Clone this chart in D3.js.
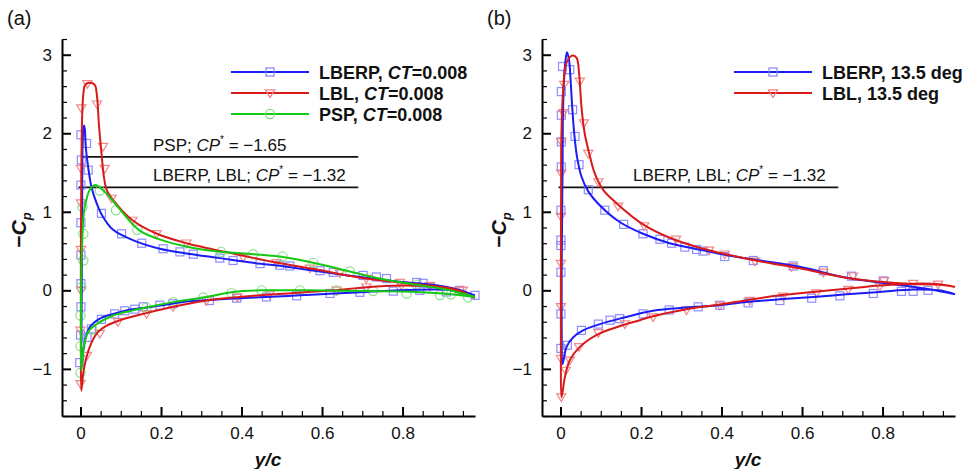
<!DOCTYPE html>
<html>
<head>
<meta charset="utf-8">
<script src="https://cdn.jsdelivr.net/npm/d3@7"></script>
<style>
  html, body { margin: 0; padding: 0; background: #fff; }
  svg { display: block; }
</style>
</head>
<body>
<div id="idMyCanvas"></div>
<script>
// ---- data: [y/c, -Cp] ----
// each curve goes lower surface TE -> LE, then upper surface LE -> TE
let x_ticks = [0, 0.2, 0.4, 0.6, 0.8];
let y_ticks = [-1, 0, 1, 2, 3];

// panel (a), CT = 0.008
let lberp_a = [[0.98,-0.064],[0.93,0.0],[0.876,0.01],[0.79,0.0],[0.71,-0.02],[0.63,-0.04],[0.545,-0.064],[0.46,-0.085],[0.396,-0.1],[0.33,-0.12],[0.27,-0.14],[0.214,-0.18],[0.164,-0.22],[0.114,-0.255],[0.081,-0.3],[0.048,-0.36],[0.023,-0.47],[0.011,-0.64],[0.005,-0.85],[0.002,-0.98],
  [0.002,-0.6],[0.003,0.0],[0.004,1.0],[0.005,1.8],[0.007,2.05],[0.009,2.1],[0.011,2.04],[0.013,1.83],[0.019,1.57],[0.027,1.32],[0.04,1.11],[0.052,0.97],[0.081,0.77],[0.13,0.64],[0.197,0.53],[0.263,0.47],[0.346,0.41],[0.429,0.35],[0.512,0.3],[0.595,0.24],[0.694,0.17],[0.793,0.11],[0.876,0.07],[0.93,0.02],[0.98,-0.064]];
let lbl_a = [[0.98,-0.1],[0.94,-0.01],[0.876,0.045],[0.793,0.06],[0.71,0.04],[0.628,0.0],[0.545,-0.03],[0.479,-0.05],[0.396,-0.085],[0.313,-0.13],[0.23,-0.21],[0.164,-0.29],[0.098,-0.38],[0.065,-0.45],[0.04,-0.55],[0.023,-0.72],[0.013,-0.89],[0.0066,-1.06],[0.002,-1.28],
  [0.001,-0.6],[0.001,0.5],[0.002,1.5],[0.004,2.2],[0.007,2.5],[0.011,2.61],[0.018,2.64],[0.028,2.64],[0.036,2.61],[0.041,2.47],[0.046,2.09],[0.052,1.75],[0.058,1.45],[0.065,1.28],[0.081,1.15],[0.13,0.89],[0.19,0.72],[0.263,0.6],[0.313,0.54],[0.396,0.45],[0.479,0.36],[0.57,0.28],[0.71,0.15],[0.793,0.1],[0.876,0.055],[0.94,0.0],[0.98,-0.1]];
let psp_a = [[0.98,-0.085],[0.9,-0.04],[0.835,-0.02],[0.71,-0.01],[0.57,0.0],[0.445,0.0],[0.379,-0.02],[0.313,-0.085],[0.23,-0.15],[0.172,-0.21],[0.13,-0.255],[0.081,-0.32],[0.04,-0.43],[0.019,-0.53],[0.008,-0.72],[0.002,-1.02],
  [0.001,-0.5],[0.002,0.2],[0.005,0.72],[0.008,0.98],[0.013,1.12],[0.023,1.28],[0.036,1.34],[0.05,1.3],[0.065,1.23],[0.093,1.06],[0.147,0.76],[0.214,0.62],[0.28,0.54],[0.346,0.49],[0.429,0.46],[0.495,0.43],[0.578,0.35],[0.669,0.24],[0.752,0.14],[0.835,0.07],[0.917,0.0],[0.98,-0.085]];

let lberp_a_pts = [[0.001,1.98],[0.015,1.87],[0.002,1.66],[0.019,1.53],[0.001,1.34],[0.052,0.98],[0.001,0.86],[0.102,0.72],[0.152,0.6],[0.001,0.45],[0.205,0.53],[0.247,0.49],[0.28,0.46],[0.346,0.41],[0.379,0.38],[0.446,0.34],[0.495,0.32],[0.52,0.31],[0.595,0.25],[0.628,0.23],[0.702,0.19],[0.735,0.17],[0.76,0.15],[0.835,0.1],[0.851,0.09],[0.942,0.0],[0.98,-0.064],
  [0.001,0.085],[0.001,-0.21],[0.0,-0.57],[0.016,-0.6],[0.027,-0.49],[0.052,-0.37],[0.085,-0.3],[0.11,-0.26],[0.135,-0.24],[-0.002,-0.92],[0.156,-0.21],[0.197,-0.19],[0.23,-0.17],[0.32,-0.13],[0.388,-0.1],[0.462,-0.085],[0.537,-0.07],[0.62,-0.04],[0.694,-0.025],[0.777,-0.01],[0.843,0.0],[0.909,-0.02]];
let lbl_a_pts = [[0.017,2.63],[0.002,2.32],[0.041,2.37],[0.056,1.83],[0.001,1.55],[0.06,1.55],[0.001,1.11],[0.077,1.17],[0.001,0.52],[0.129,0.89],[0.189,0.72],[0.263,0.6],[0.404,0.42],[0.487,0.35],[0.57,0.28],[0.644,0.22],[0.71,0.15],[0.793,0.1],[0.868,0.06],[0.942,0.0],
  [0.001,0.0],[0.0,-0.51],[0.016,-0.83],[0.0,-1.19],[0.048,-0.55],[0.093,-0.4],[0.164,-0.3],[0.23,-0.21],[0.313,-0.13],[0.39,-0.09],[0.47,-0.05],[0.636,0.0],[0.71,0.04],[0.797,0.06],[0.868,0.05],[0.95,0.0]];
let psp_a_pts = [[0.005,1.06],[0.007,0.72],[0.007,0.38],[0.048,1.27],[0.088,1.02],[0.141,0.77],[0.349,0.49],[0.429,0.46],[0.502,0.43],[0.578,0.35],[0.669,0.24],[0.835,0.07],
  [0.002,0.04],[0.0,-0.32],[0.0,-0.71],[0.0,-1.05],[0.03,-0.5],[0.164,-0.22],[0.23,-0.15],[0.305,-0.09],[0.375,-0.035],[0.45,0.0],[0.545,0.0],[0.636,0.0],[0.727,-0.01],[0.81,-0.04],[0.893,-0.06],[0.92,-0.05],[0.963,-0.09]];

// panel (b), 13.5 deg
let lberp_b = [[0.98,-0.05],[0.94,0.0],[0.876,0.01],[0.793,-0.02],[0.71,-0.05],[0.628,-0.085],[0.545,-0.115],[0.462,-0.15],[0.396,-0.19],[0.313,-0.22],[0.23,-0.26],[0.147,-0.36],[0.098,-0.43],[0.056,-0.51],[0.031,-0.6],[0.015,-0.72],[0.005,-0.94],
  [0.003,-0.5],[0.003,0.3],[0.004,1.0],[0.005,1.49],[0.0065,2.34],[0.011,2.85],[0.016,3.03],[0.021,2.94],[0.025,2.68],[0.029,2.34],[0.034,2.0],[0.041,1.7],[0.052,1.45],[0.069,1.26],[0.098,1.08],[0.147,0.87],[0.205,0.72],[0.271,0.6],[0.354,0.51],[0.42,0.44],[0.495,0.38],[0.594,0.3],[0.71,0.16],[0.793,0.1],[0.876,0.045],[0.917,0.015],[0.98,-0.05]];
let lbl_b = [[0.98,0.043],[0.942,0.077],[0.876,0.085],[0.793,0.06],[0.71,0.02],[0.628,-0.02],[0.545,-0.064],[0.462,-0.125],[0.396,-0.18],[0.313,-0.24],[0.23,-0.33],[0.197,-0.38],[0.139,-0.47],[0.089,-0.57],[0.048,-0.72],[0.023,-0.89],[0.0107,-1.11],[0.0025,-1.36],
  [0.001,-0.8],[0.001,0.3],[0.0015,1.3],[0.002,1.92],[0.0065,2.55],[0.015,2.9],[0.03,2.99],[0.04,2.96],[0.046,2.77],[0.052,2.34],[0.06,2.0],[0.071,1.75],[0.085,1.49],[0.106,1.28],[0.139,1.11],[0.205,0.84],[0.271,0.67],[0.354,0.53],[0.42,0.45],[0.495,0.37],[0.594,0.28],[0.71,0.16],[0.793,0.11],[0.876,0.08],[0.942,0.07],[0.98,0.043]];

let lberp_b_pts = [[0.005,2.85],[0.002,2.53],[0.002,2.23],[0.002,1.89],[0.002,1.57],[0.001,1.02],[0.001,0.64],[0.001,0.57],[0.001,0.23],[0.001,-0.3],[0.001,-0.74],[0.023,2.81],[0.03,2.3],[0.036,1.96],[0.046,1.6],[0.069,1.28],[0.11,1.02],[0.157,0.84],[0.205,0.72],[0.247,0.65],[0.276,0.6],[0.309,0.55],[0.338,0.52],[0.354,0.5],[0.408,0.43],[0.479,0.38],[0.578,0.31],[0.653,0.25],[0.723,0.18],[0.802,0.12],[0.913,0.0],
  [0.017,-0.7],[0.052,-0.51],[0.094,-0.43],[0.123,-0.38],[0.147,-0.36],[0.205,-0.3],[0.27,-0.25],[0.342,-0.21],[0.396,-0.19],[0.466,-0.16],[0.545,-0.13],[0.624,-0.1],[0.694,-0.07],[0.777,-0.04],[0.847,-0.013],[0.876,-0.013]];
let lbl_b_pts = [[0.009,2.62],[0.007,2.26],[0.002,1.89],[0.002,1.49],[0.001,0.94],[0.001,0.34],[0.001,-0.21],[0.001,-0.87],[0.048,2.66],[0.058,2.13],[0.069,1.74],[0.094,1.38],[0.143,1.07],[0.208,0.82],[0.287,0.65],[0.369,0.51],[0.408,0.46],[0.483,0.37],[0.574,0.3],[0.653,0.23],[0.727,0.18],[0.804,0.12],[0.876,0.085],[0.938,0.077],
  [0.002,-1.36],[0.013,-1.02],[0.023,-0.89],[0.046,-0.72],[0.094,-0.54],[0.16,-0.43],[0.23,-0.34],[0.313,-0.25],[0.396,-0.19],[0.47,-0.13],[0.553,-0.077],[0.636,-0.034],[0.715,0.01],[0.793,0.05]];

// critical pressure lines (level in -Cp, label value)
let ref_a_levels = [1.70, 1.31];
let ref_a_labels = [["PSP; ", "\u22121.65"], ["LBERP, LBL; ", "\u22121.32"]];
let ref_b_levels = [1.31];
let ref_b_labels = [["LBERP, LBL; ", "\u22121.32"]];

let legend_a = [["LBERP, ", true], ["LBL, ", true], ["PSP, ", true]];
let legend_b = [["LBERP, 13.5 deg", false], ["LBL, 13.5 deg", false]];

// ---- drawing ----
let font_family = "'Liberation Sans', Arial, Helvetica, sans-serif";

let svg_obj = d3.select("#idMyCanvas")
                .append("svg")
                  .attr("width", 966)
                  .attr("height", 469)
                  .attr("font-family", font_family);

svg_obj.append("rect").attr("width", 966).attr("height", 469).attr("fill", "white");

let styles = {
  blue:  {line: "#1c1cf4", mark: "#8282ff", shape: "square"},
  red:   {line: "#d81a1a", mark: "#f07e7e", shape: "tri"},
  green: {line: "#14c814", mark: "#7edc7e", shape: "circle"}
};

function drawMarker(g, shape, color, px, py) {
  if (shape == "square") {
    g.append("rect").attr("x", px - 4).attr("y", py - 4).attr("width", 8).attr("height", 8)
      .attr("fill", "none").attr("stroke", color).attr("stroke-width", 1.2);
  } else if (shape == "tri") {
    g.append("path").attr("d", `M${px-4.6},${py-3.2} L${px+4.6},${py-3.2} L${px},${py+4.5} Z`)
      .attr("fill", "none").attr("stroke", color).attr("stroke-width", 1.2);
  } else {
    g.append("circle").attr("cx", px).attr("cy", py).attr("r", 4.6)
      .attr("fill", "none").attr("stroke", color).attr("stroke-width", 1.2);
  }
}

function drawPanel(ox, tag, series, refLevels, refLabels, legend, legendX0) {
  let g = svg_obj.append("g");
  let x = d3.scaleLinear().domain([-0.046, 0.98]).range([ox + 62, ox + 475]);
  let y = d3.scaleLinear().domain([-1.6, 3.2]).range([416, 39]);

  // minor ticks
  let x_minor = d3.range(0, 0.97, 0.05).filter(v => Math.abs(v / 0.2 - Math.round(v / 0.2)) > 1e-6);
  let y_minor = d3.range(-1.6, 3.21, 0.2).filter(v => Math.abs(v - Math.round(v)) > 1e-6);

  g.append("g").attr("transform", "translate(0,416)")
    .call(d3.axisBottom(x).tickValues(x_minor).tickSize(-5).tickFormat(""))
    .call(a => a.select(".domain").remove())
    .call(a => a.selectAll("line").attr("stroke-width", 1.2));
  g.append("g").attr("transform", `translate(${ox + 62},0)`)
    .call(d3.axisLeft(y).tickValues(y_minor).tickSize(-5).tickFormat(""))
    .call(a => a.select(".domain").remove())
    .call(a => a.selectAll("line").attr("stroke-width", 1.2));

  let xa = g.append("g").attr("transform", "translate(0,416)")
    .call(d3.axisBottom(x).tickValues(x_ticks).tickSizeInner(-9).tickSizeOuter(0).tickPadding(11)
      .tickFormat(d => d == 0 ? "0" : d3.format(".1f")(d)));
  xa.select(".domain").attr("stroke-width", 2);
  xa.selectAll("line").attr("stroke-width", 2);
  xa.selectAll("text").attr("font-size", 17).attr("font-family", font_family).attr("fill", "#111");

  let ya = g.append("g").attr("transform", `translate(${ox + 62},0)`)
    .call(d3.axisLeft(y).tickValues(y_ticks).tickSizeInner(-9).tickSizeOuter(0).tickPadding(10)
      .tickFormat(d => d < 0 ? "\u2212" + Math.abs(d) : d));
  ya.select(".domain").attr("stroke-width", 2);
  ya.selectAll("line").attr("stroke-width", 2);
  ya.selectAll("text").attr("font-size", 17).attr("font-family", font_family).attr("fill", "#111");

  // critical pressure lines
  refLevels.forEach((lv, i) => {
    g.append("line")
      .attr("x1", x(i == 0 && refLevels.length > 1 ? 0.003 : -0.005)).attr("x2", x(0.69))
      .attr("y1", y(lv)).attr("y2", y(lv))
      .attr("stroke", "#111").attr("stroke-width", 1.8);
    let t = g.append("text").attr("x", x(0.18)).attr("y", y(lv) - 6)
      .attr("font-size", 17).attr("fill", "#111");
    t.append("tspan").text(refLabels[i][0]);
    t.append("tspan").attr("font-style", "italic").text("CP");
    t.append("tspan").attr("font-size", 10).attr("dy", -8).text("*");
    t.append("tspan").attr("dy", 8).text(" = " + refLabels[i][1]);
  });

  // curves and markers
  let line_gen = d3.line().x(d => x(d[0])).y(d => y(d[1])).curve(d3.curveCatmullRom.alpha(0.5));
  series.forEach(s => {
    let st = styles[s.color];
    let mg = g.append("g").attr("opacity", 0.9);
    s.pts.forEach(p => drawMarker(mg, st.shape, st.mark, x(p[0]), y(p[1])));
  });
  series.forEach(s => {
    g.append("path").attr("d", line_gen(s.curve))
      .attr("fill", "none").attr("stroke", styles[s.color].line)
      .attr("stroke-width", 2).attr("stroke-linejoin", "round");
  });

  // legend
  series.forEach((s, i) => {
    let st = styles[s.color];
    let ly = 72 + i * 21;
    g.append("line").attr("x1", ox + legendX0).attr("x2", ox + legendX0 + 78)
      .attr("y1", ly).attr("y2", ly).attr("stroke", st.line).attr("stroke-width", 2);
    drawMarker(g, st.shape, st.mark, ox + legendX0 + 39, ly);
    let t = g.append("text").attr("x", ox + legendX0 + 88).attr("y", ly + 6.5)
      .attr("font-size", 18).attr("font-weight", "bold").attr("fill", "#111");
    t.append("tspan").text(legend[i][0]);
    if (legend[i][1]) {
      t.append("tspan").attr("font-style", "italic").text("CT");
      t.append("tspan").text("=0.008");
    }
  });

  // axis titles
  g.append("text").attr("x", ox + 268).attr("y", 466).attr("text-anchor", "middle")
    .attr("font-size", 19).attr("font-weight", "bold").attr("font-style", "italic").attr("fill", "#111")
    .text("y/c");
  let yt = g.append("text").attr("transform", `translate(${ox + 26},230) rotate(-90)`)
    .attr("text-anchor", "middle").attr("font-size", 21).attr("font-weight", "bold").attr("fill", "#111");
  yt.append("tspan").text("\u2212");
  yt.append("tspan").attr("font-style", "italic").text("C");
  yt.append("tspan").attr("font-style", "italic").attr("font-size", 13).attr("dy", 5).text("p");

  g.append("text").attr("x", ox + 7).attr("y", 25).attr("font-size", 20).attr("fill", "#111").text(tag);
}

drawPanel(0, "(a)",
  [{color: "blue", curve: lberp_a, pts: lberp_a_pts},
   {color: "red", curve: lbl_a, pts: lbl_a_pts},
   {color: "green", curve: psp_a, pts: psp_a_pts}],
  ref_a_levels, ref_a_labels, legend_a, 231);

drawPanel(480, "(b)",
  [{color: "blue", curve: lberp_b, pts: lberp_b_pts},
   {color: "red", curve: lbl_b, pts: lbl_b_pts}],
  ref_b_levels, ref_b_labels, legend_b, 254);
</script>
</body>
</html>
